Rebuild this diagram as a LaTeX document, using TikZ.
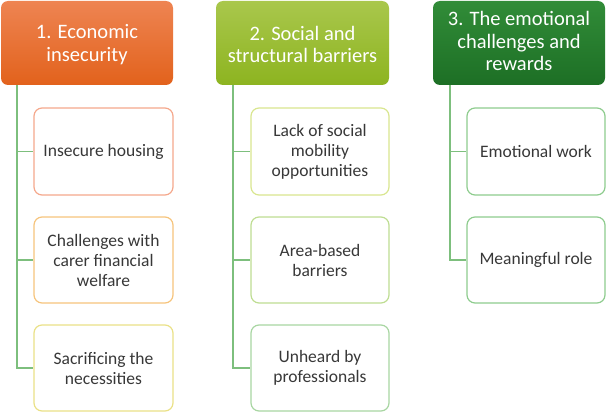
\documentclass[tikz,border=0pt]{standalone}
\usepackage{fontspec}
\setmainfont{Carlito}
\begin{document}
\begin{tikzpicture}[x=1pt,y=-1pt,
  hdr/.style={rounded corners=7pt, text=white, align=center, font=\fontsize{20.5}{22.5}\selectfont, inner sep=0pt},
  kid/.style={draw, line width=1.2pt, rounded corners=8pt, fill=white, align=center, text=black!78, font=\fontsize{17.5}{20}\selectfont, inner sep=0pt},
  conn/.style={draw=linkg, line width=1.2pt}]
\definecolor{linkg}{HTML}{7DBF7D}
\definecolor{o1}{HTML}{EE8452}\definecolor{o2}{HTML}{E2621C}
\definecolor{g1}{HTML}{A9C74C}\definecolor{g2}{HTML}{8DB420}
\definecolor{d1}{HTML}{318C38}\definecolor{d2}{HTML}{1D6F25}
\definecolor{b11}{HTML}{F5A88C}\definecolor{b12}{HTML}{F6C47C}\definecolor{b13}{HTML}{EAE187}
\definecolor{b21}{HTML}{D9E68F}\definecolor{b22}{HTML}{BEDD92}\definecolor{b23}{HTML}{A8D6A2}
\definecolor{b3}{HTML}{8ECC8E}
\useasboundingbox (0,0) rectangle (606,412);
% headers
\shade[top color=o1,bottom color=o2,rounded corners=7pt] (1,1) rectangle (173,85);
\node[hdr] (h1) at (87,44.5) {1. Economic\\insecurity};
\shade[top color=g1,bottom color=g2,rounded corners=7pt] (216,1) rectangle (389,85);
\node[hdr] (h2) at (302.5,44.5) {2. Social and\\structural barriers};
\shade[top color=d1,bottom color=d2,rounded corners=7pt] (433,1) rectangle (605,85);
\node[hdr] (h3) at (519,41) {3. The emotional\\challenges and\\rewards};
% children
\node[kid, draw=b11, minimum width=139pt, minimum height=87pt] (a1) at (103.5,151.5) {Insecure housing};
\node[kid, draw=b12, minimum width=139pt, minimum height=86pt] (a2) at (103.5,260) {Challenges with\\carer financial\\welfare};
\node[kid, draw=b13, minimum width=139pt, minimum height=86pt] (a3) at (103.5,368) {Sacrificing the\\necessities};
\node[kid, draw=b21, minimum width=138pt, minimum height=87pt] (b1) at (320,151.5) {Lack of social\\mobility\\opportunities};
\node[kid, draw=b22, minimum width=138pt, minimum height=86pt] (b2) at (320,260) {Area-based\\barriers};
\node[kid, draw=b23, minimum width=138pt, minimum height=86pt] (b3) at (320,368) {Unheard by\\professionals};
\node[kid, draw=b3, minimum width=138pt, minimum height=87pt] (c1) at (536,151.5) {Emotional work};
\node[kid, draw=b3, minimum width=138pt, minimum height=86pt] (c2) at (536,260) {Meaningful role};
% connectors
\coordinate (t1) at (17,85);
\coordinate (t2) at (233,85);
\coordinate (t3) at (450,85);
\draw[conn] (t1) |- (a3.west);
\draw[conn] (t1 |- a1.west) -- (a1.west);
\draw[conn] (t1 |- a2.west) -- (a2.west);
\draw[conn] (t2) |- (b3.west);
\draw[conn] (t2 |- b1.west) -- (b1.west);
\draw[conn] (t2 |- b2.west) -- (b2.west);
\draw[conn] (t3) |- (c2.west);
\draw[conn] (t3 |- c1.west) -- (c1.west);
\end{tikzpicture}
\end{document}
